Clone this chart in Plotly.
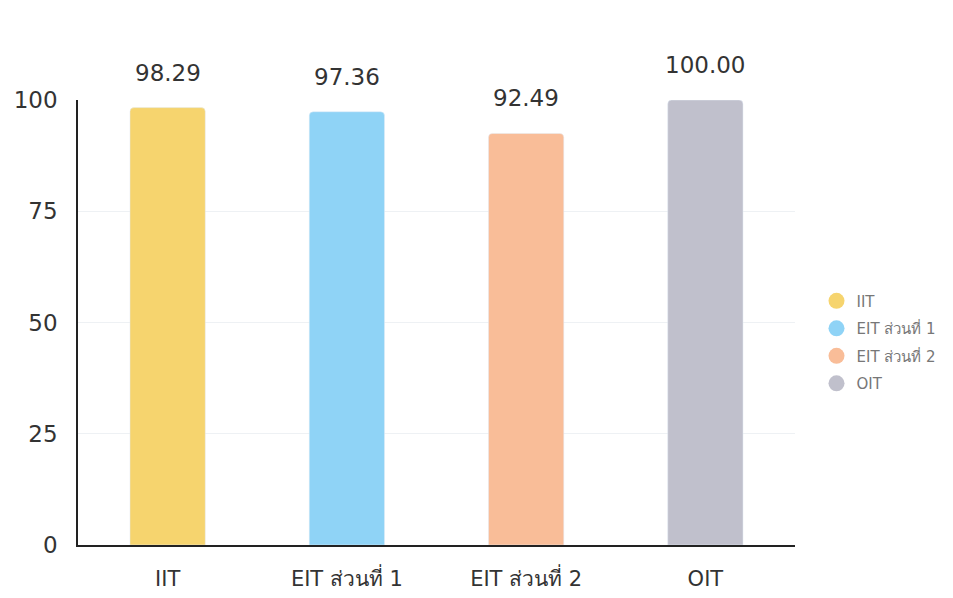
import plotly.graph_objects as go

categories = ["IIT", "EIT ส่วนที่ 1", "EIT ส่วนที่ 2", "OIT"]
values = [98.29, 97.36, 92.49, 100.00]
colors = ["#F6D46E", "#8FD3F6", "#F9BD98", "#C0C0CC"]

fig = go.Figure()
for cat, val, col in zip(categories, values, colors):
    fig.add_trace(go.Bar(
        x=[cat], y=[val], name=cat,
        marker=dict(color=col, cornerradius=4),
        width=0.42, showlegend=False,
        cliponaxis=False,
    ))
    fig.add_annotation(x=cat, y=val, text=f"{val:.2f}", showarrow=False,
                       yanchor="bottom", yshift=20,
                       font=dict(size=23, color="#333333"))
# legend entries with circle markers
for cat, col in zip(categories, colors):
    fig.add_trace(go.Scatter(
        x=[None], y=[None], mode="markers", name=cat,
        marker=dict(symbol="circle", size=16, color=col),
        legendgroup=cat,
    ))

fig.update_layout(
    width=953, height=598,
    barmode="overlay",
    paper_bgcolor="white", plot_bgcolor="white",
    font=dict(family="DejaVu Sans, Noto Sans, sans-serif", color="#333333"),
    margin=dict(l=70, r=166, t=92, b=61, autoexpand=False),
    legend=dict(x=1.03, y=0.456, yanchor="middle", xanchor="left",
                font=dict(size=15, color="#777777"), itemwidth=30,
                tracegroupgap=5),
    showlegend=True,
)
fig.update_xaxes(showline=True, linecolor="#222222", linewidth=1.5,
                 tickfont=dict(size=21, color="#333333"), ticks="",
                 ticklabelstandoff=14, automargin=False)
fig.update_yaxes(range=[0, 100], tickvals=[0, 25, 50, 75, 100],
                 showline=True, linecolor="#222222", linewidth=1.5,
                 showgrid=True, gridcolor="#EEF1F4", gridwidth=1,
                 zeroline=False, automargin=False,
                 tickfont=dict(size=23, color="#333333"), ticklabelstandoff=14)

fig.write_html("out.html")
